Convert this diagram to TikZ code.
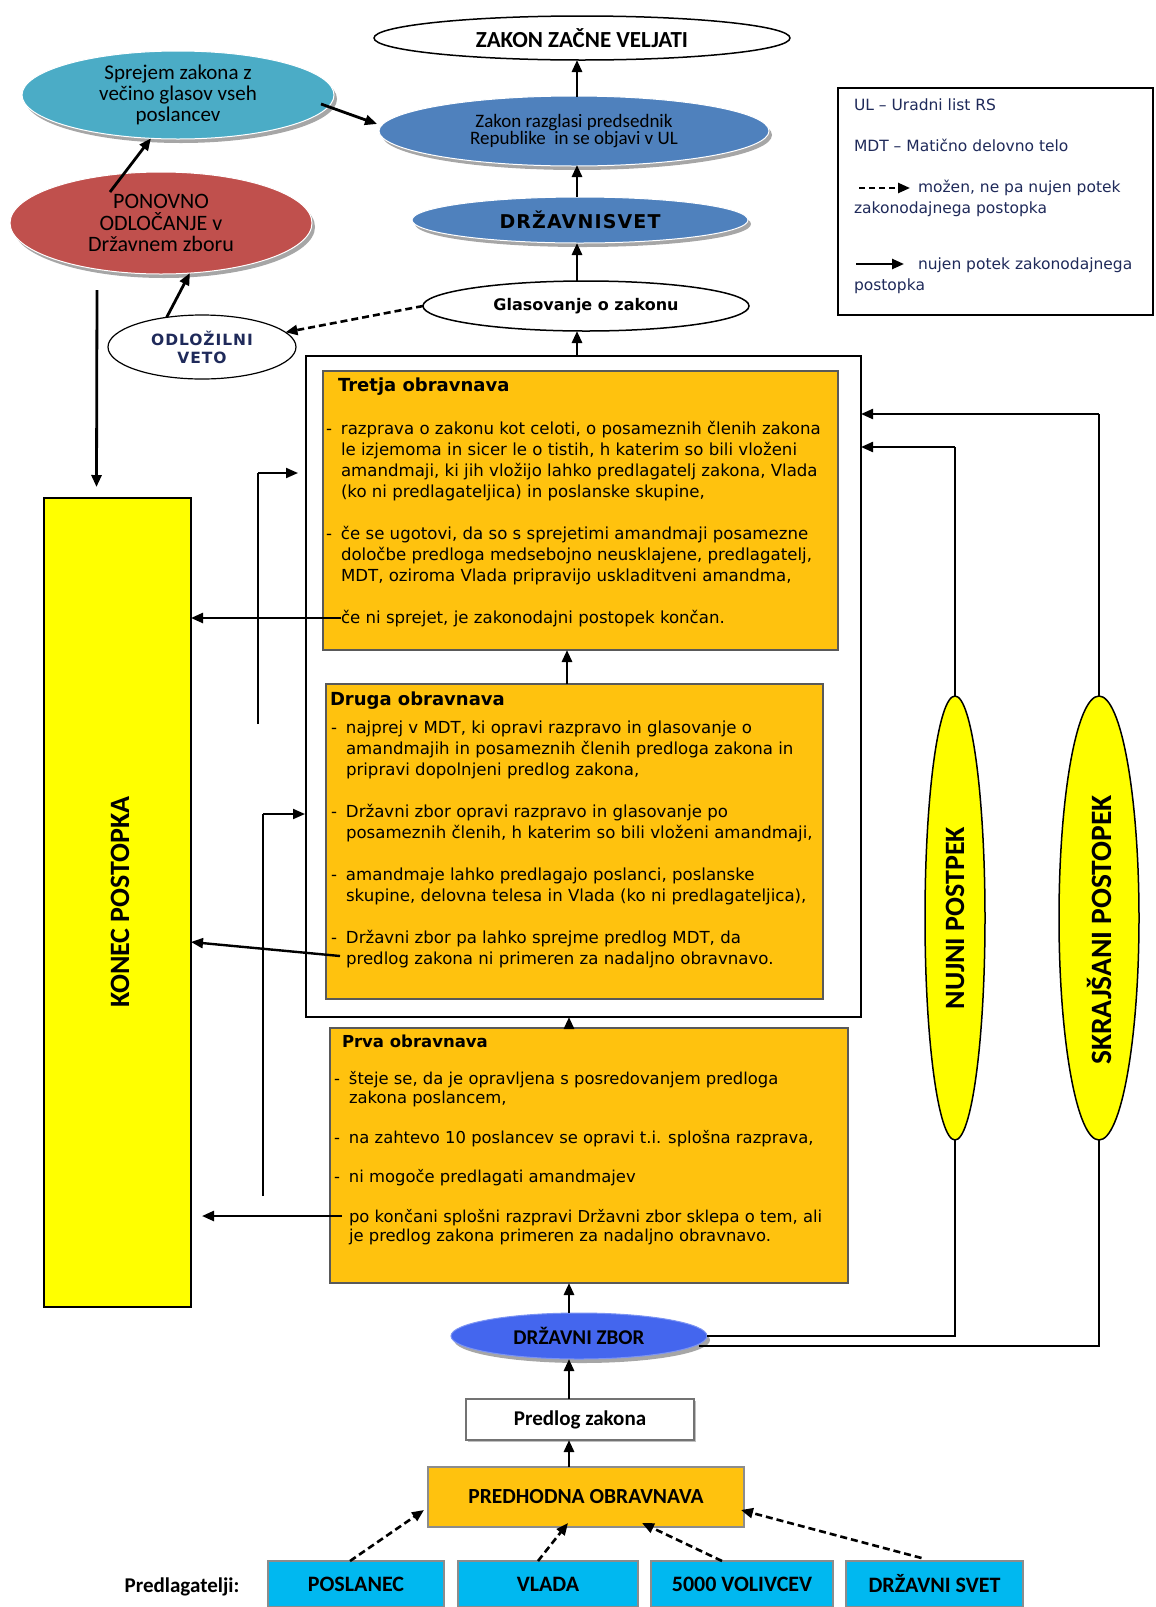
\documentclass[tikz,border=0pt]{standalone}
\usepackage{fontspec}
\setmainfont{DejaVu Sans}
\newfontfamily\cf{Carlito}
\newfontfamily\dvs[LetterSpace=6]{DejaVu Sans}
\usetikzlibrary{shapes.geometric,arrows.meta,shadows,calc}
\definecolor{ora}{HTML}{FFC20E}
\definecolor{teal1}{HTML}{4BACC6}
\definecolor{blu1}{HTML}{4F81BD}
\definecolor{red1}{HTML}{C0504D}
\definecolor{dzb}{HTML}{4466EE}
\definecolor{cyanb}{HTML}{00B8F0}
\definecolor{yel}{HTML}{FFFF00}
\definecolor{navy1}{HTML}{1F2A5A}
\newcommand\mydash{\makebox[15pt][l]{-}}
\newcommand\myind{\hspace*{15pt}}
\newcommand\fsz[2]{\fontsize{#1}{#2}\selectfont}
\begin{document}
\begin{tikzpicture}[x=1pt,y=-1pt,
  every node/.style={inner sep=0pt, outer sep=0pt},
  ell/.style={ellipse, draw=black, line width=1.5pt, fill=white},
  cell/.style={ellipse, draw=white, line width=1pt, drop shadow={shadow xshift=3pt,shadow yshift=-4pt,opacity=0.35,fill=black}},
  obox/.style={rectangle, draw=black!65, line width=1.2pt, fill=ora, anchor=north west},
  cbox/.style={rectangle, draw=black!45, line width=1.2pt, fill=cyanb, anchor=north west, font=\cf\bfseries\fsz{22}{22}},
  arr/.style={-{Triangle[length=12pt,width=10pt]}, line width=2.8pt},
  darr/.style={-{Triangle[length=12pt,width=10pt]}, line width=2.6pt, dash pattern=on 7pt off 4pt},
  thinl/.style={line width=2pt},
  body/.style={anchor=north west, align=left, font=\fsz{16.6}{21}},
  ttl/.style={anchor=base west, font=\bfseries\fsz{18}{18}},
  leg/.style={anchor=base west, font=\fsz{15.5}{15.5}, text=navy1},
]
\useasboundingbox (0,0) rectangle (1156,1607);
\fill[white] (0,0) rectangle (1156,1607);

% ---------- top ellipses
\node[ell, minimum width=416pt, minimum height=44pt] (zakon) at (582,38) {\cf\bfseries\fsz{23}{23}ZAKON ZAČNE VELJATI};
\node[cell, fill=teal1, minimum width=312pt, minimum height=88pt, align=center, font=\cf\fsz{21}{21}] (sprejem) at (178,95) {Sprejem zakona z\\večino glasov vseh\\poslancev};
\node[cell, fill=blu1, minimum width=390pt, minimum height=70pt, align=center, font=\cf\fsz{19}{17.5}] (razglasi) at (574,131) {Zakon razglasi predsednik\\Republike \ in se objavi v UL};
\node[cell, fill=red1, minimum width=302pt, minimum height=102pt, align=center, font=\cf\fsz{22}{21.5}] (ponovno) at (161,223) {PONOVNO\\ODLOČANJE v\\Državnem zboru};
\node[cell, fill=blu1, minimum width=336pt, minimum height=46pt, font=\dvs\bfseries\fsz{19}{19}] (dsvet) at (580,220) {DRŽAVNISVET};
\node[ell, minimum width=326pt, minimum height=50pt, font=\bfseries\fsz{16}{16}] (glas) at (586,306) {Glasovanje o zakonu};
\node[ell, line width=1.2pt, minimum width=188pt, minimum height=64pt, align=center, font=\dvs\bfseries\fsz{15.5}{18}, text=navy1] (veto) at (202,347) {ODLOŽILNI\\VETO};

% ---------- legend
\node[draw, line width=1.5pt, minimum width=315pt, minimum height=227pt, anchor=north west] (legend) at (838,88) {};
\node[leg] (l1) at (854,110) {UL – Uradni list RS};
\node[leg] (l2) at (854,151) {MDT – Matično delovno telo};
\node[leg] (l3) at (918,192) {možen, ne pa nujen potek};
\node[leg] (l4) at (854,213) {zakonodajnega postopka};
\node[leg] (l5) at (918,269) {nujen potek zakonodajnega};
\node[leg] (l6) at (854,290) {postopka};
\coordinate (la1) at (859,188);
\coordinate (la2) at (910,188);
\coordinate (lb1) at (856,264);
\coordinate (lb2) at (904,264);
\draw[darr, line width=2.4pt, dash pattern=on 6pt off 4pt] (la1) -- (la2);
\draw[arr, line width=2.4pt] (lb1) -- (lb2);

% ---------- main column boxes
\node[draw, line width=1.5pt, minimum width=555pt, minimum height=661pt, anchor=north west] (bigrect) at (306,356) {};
\node[obox, minimum width=515pt, minimum height=279pt] (tretja) at (323,371) {};
\node[obox, minimum width=497pt, minimum height=315pt] (druga) at (326,684) {};
\node[obox, minimum width=518pt, minimum height=255pt] (prva) at (330,1028) {};

\node[ttl] (t3t) at (338,391) {Tretja obravnava};
\node[body] (t3b) at (326,421) {\mydash razprava o zakonu kot celoti, o posameznih členih zakona\\
\myind le izjemoma in sicer le o tistih, h katerim so bili vloženi\\
\myind amandmaji, ki jih vložijo lahko predlagatelj zakona, Vlada\\
\myind (ko ni predlagateljica) in poslanske skupine,\\[21pt]
\mydash če se ugotovi, da so s sprejetimi amandmaji posamezne\\
\myind določbe predloga medsebojno neusklajene, predlagatelj,\\
\myind MDT, oziroma Vlada pripravijo uskladitveni amandma,\\[21pt]
\myind če ni sprejet, je zakonodajni postopek končan.};

\node[ttl] (t2t) at (330,705) {Druga obravnava};
\node[body] (t2b) at (331,721) {\mydash najprej v MDT, ki opravi razpravo in glasovanje o\\
\myind amandmajih in posameznih členih predloga zakona in\\
\myind pripravi dopolnjeni predlog zakona,\\[21pt]
\mydash Državni zbor opravi razpravo in glasovanje po\\
\myind posameznih členih, h katerim so bili vloženi amandmaji,\\[21pt]
\mydash amandmaje lahko predlagajo poslanci, poslanske\\
\myind skupine, delovna telesa in Vlada (ko ni predlagateljica),\\[21pt]
\mydash Državni zbor pa lahko sprejme predlog MDT, da\\
\myind predlog zakona ni primeren za nadaljno obravnavo.};

\node[ttl, font=\bfseries\fsz{16.5}{16.5}] (t1t) at (342,1047) {Prva obravnava};
\node[body, font=\fsz{16.4}{19.7}] (t1b) at (334,1071) {\mydash šteje se, da je opravljena s posredovanjem predloga\\
\myind zakona poslancem,\\[19.7pt]
\mydash na zahtevo 10 poslancev se opravi t.i. splošna razprava,\\[19.7pt]
\mydash ni mogoče predlagati amandmajev\\[19.7pt]
\myind po končani splošni razpravi Državni zbor sklepa o tem, ali\\
\myind je predlog zakona primeren za nadaljno obravnavo.};

% ---------- lower column
\node[cell, fill=dzb, draw=dzb!70!white, minimum width=256pt, minimum height=46pt, font=\cf\bfseries\fsz{21}{21}] (dzbor) at (579,1336) {DRŽAVNI ZBOR};
\node[draw=black!55, line width=1.2pt, fill=white, minimum width=228pt, minimum height=41pt, anchor=north west, font=\cf\bfseries\fsz{21}{21}, drop shadow={shadow xshift=2pt,shadow yshift=-2pt,opacity=0.25,fill=black}] (predlog) at (466,1399) {Predlog zakona};
\node[draw=black!45, line width=1.2pt, fill=ora, minimum width=316pt, minimum height=60pt, anchor=north west, font=\cf\bfseries\fsz{21.5}{21.5}] (predhodna) at (428,1467) {PREDHODNA OBRAVNAVA};

\node[cbox, minimum width=176pt, minimum height=46pt] (poslanec) at (268,1561) {POSLANEC};
\node[cbox, minimum width=180pt, minimum height=46pt] (vlada) at (458,1561) {VLADA};
\node[cbox, minimum width=182pt, minimum height=46pt] (volivci) at (651,1561) {5000 VOLIVCEV};
\node[cbox, minimum width=177pt, minimum height=46pt] (dsvet2) at (846,1561) {DRŽAVNI SVET};
\node[font=\cf\bfseries\fsz{21}{21}] (predl) at (182,1587) {Predlagatelji:};

% ---------- side boxes
\node[draw=black, line width=1.5pt, fill=yel, minimum width=147pt, minimum height=809pt, anchor=north west] (konec) at (44,498) {};
\node[rotate=90, font=\cf\bfseries\fsz{28}{28}] (konect) at (120,902) {KONEC POSTOPKA};

% lines to the right procedures (drawn beneath ellipses)
\coordinate (nj) at (955,447);
\coordinate (sk) at (1099,414);
\coordinate (njb) at (955,1336);
\coordinate (skb) at (1099,1346);
\draw[thinl] (dzbor.east) -- (njb) -- (nj);
\draw[arr, line width=2.2pt] (nj) -- (nj -| bigrect.east);
\draw[thinl] ($(dzbor.east)+(-8,10)$) -- (skb) -- (sk);
\draw[arr, line width=2.2pt] (sk) -- (sk -| bigrect.east);

\node[ellipse, draw=black, line width=1.5pt, fill=yel, minimum width=60pt, minimum height=444pt] (nujni) at (955,918) {};
\node[rotate=90, font=\cf\bfseries\fsz{28}{28}] (nujnit) at (nujni.center) {NUJNI POSTPEK};
\node[ellipse, draw=black, line width=1.5pt, fill=yel, minimum width=80pt, minimum height=444pt] (skraj) at (1099,918) {};
\node[rotate=90, font=\cf\bfseries\fsz{29.5}{29.5}] (skrajt) at ($(skraj.center)+(0,12)$) {SKRAJŠANI POSTOPEK};

% ---------- vertical arrows, main column
\coordinate (cx) at (577,0);
\coordinate (cy) at (569,0);
\draw[arr] (bigrect.north -| cx) -- (glas.south -| cx);
\draw[arr] (glas.north -| cx) -- (dsvet.south -| cx);
\draw[arr] (dsvet.north -| cx) -- ($(razglasi.south -| cx)+(0,-1)$);
\draw[arr] ($(razglasi.north -| cx)+(0,1)$) -- (zakon.south -| cx);
\draw[arr] (druga.north -| 567,0) -- (tretja.south -| 567,0);
\draw[arr] (prva.north -| cy) -- (bigrect.south -| cy);
\draw[arr] (dzbor.north -| cy) -- (prva.south -| cy);
\draw[arr] (predlog.north -| cy) -- (dzbor.south -| cy);
\draw[arr] (predhodna.north -| cy) -- (predlog.south -| cy);

% ---------- top-left connectors
\draw[arr] ($(sprejem.east)+(-13,9)$) -- ($(razglasi.west)+(-2,-7)$);
\draw[arr] ($(ponovno.center)+(-51,-31)$) -- (sprejem.-122);
\draw[arr] (veto.140) -- (ponovno.-60);
\draw[darr] (glas.west) -- (veto.10);
\draw[arr] ($(ponovno.south)+(-64,16)$) -- ($(konec.north)+(-21,-11)$);

% ---------- dashed arrows from proposers
\draw[darr] ($(poslanec.north)+(-6,0)$) -- ($(predhodna.south west)+(-4,-17)$);
\draw[darr] ($(vlada.north)+(-10,0)$) -- ($(predhodna.south)+(-18,-4)$);
\draw[darr] ($(volivci.north)+(-20,0)$) -- ($(predhodna.south)+(56,-4)$);
\draw[darr] ($(dsvet2.north)+(-13,-3)$) -- ($(predhodna.south east)+(-3,-17)$);

% ---------- left connectors to KONEC
\coordinate (e3) at (341,618);
\coordinate (e2) at (340,956);
\coordinate (e2b) at (191,942);
\coordinate (e1) at (342,1216);
\coordinate (e1b) at (202,1216);
\draw[arr, line width=2.4pt] (e3) -- (e3 -| konec.east);
\draw[arr, line width=2.4pt] (e2) -- (e2b);
\draw[arr, line width=2.4pt] (e1) -- (e1b);
\coordinate (b1a) at (258,724);
\coordinate (b1b) at (258,473);
\coordinate (b1c) at (298,473);
\draw[thinl] (b1a) -- (b1b);
\draw[arr, line width=2pt] (b1b) -- (b1c);
\coordinate (b2a) at (263,1196);
\coordinate (b2b) at (263,814);
\coordinate (b2c) at (305,814);
\draw[thinl] (b2a) -- (b2b);
\draw[arr, line width=2pt] (b2b) -- (b2c);
\end{tikzpicture}
\end{document}
